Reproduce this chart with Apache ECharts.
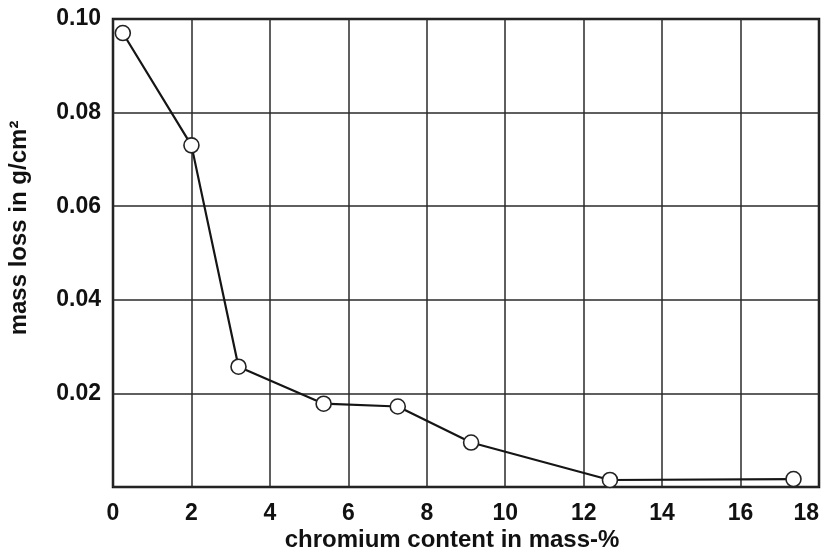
<!DOCTYPE html>
<html>
<head>
<meta charset="utf-8">
<script src="https://cdn.jsdelivr.net/npm/echarts@6/dist/echarts.min.js"></script>
<style>
html,body{margin:0;padding:0;background:#fff;}
#chart{width:822px;height:558px;}
</style>
</head>
<body>
<div id="chart"></div>
<script>
// Data
const chromiumContent = [0.25, 2.0, 3.2, 5.37, 7.26, 9.13, 12.67, 17.35];
const massLoss = [0.097, 0.073, 0.0257, 0.0178, 0.0172, 0.0095, 0.0015, 0.0017];
const xTitle = 'chromium content in mass-%';
const yTitle = 'mass loss in g/cm²';

const FONT = '"Liberation Sans", Arial, Helvetica, sans-serif';
const chart = echarts.init(document.getElementById('chart'), null, {renderer: 'canvas'});
chart.setOption({
  animation: false,
  backgroundColor: '#ffffff',
  grid: {
    left: 113, right: 2, top: 19, bottom: 71,
    show: true, borderColor: '#111', borderWidth: 2.5, backgroundColor: 'transparent'
  },
  xAxis: {
    type: 'value', min: 0, max: 18, interval: 2,
    axisLine: {show: false},
    axisTick: {show: false},
    splitLine: {show: true, lineStyle: {color: '#2a2a2a', width: 1.5}},
    axisLabel: {
      margin: 15, fontSize: 23, fontWeight: 'bold', color: '#111', fontFamily: FONT,
      alignMaxLabel: 'right'
    }
  },
  yAxis: {
    type: 'value', min: 0, max: 0.1, interval: 0.02,
    axisLine: {show: false},
    axisTick: {show: false},
    splitLine: {show: true, lineStyle: {color: '#2a2a2a', width: 1.5}},
    axisLabel: {
      margin: 12, fontSize: 23, fontWeight: 'bold', color: '#111', fontFamily: FONT,
      formatter: v => (v === 0 ? '' : v.toFixed(2))
    }
  },
  graphic: [
    {
      type: 'text', x: 452, y: 540,
      style: {text: xTitle, font: 'bold 24px ' + FONT, fill: '#111', textAlign: 'center', textVerticalAlign: 'middle'}
    },
    {
      type: 'text', x: 19, y: 228, rotation: Math.PI / 2,
      style: {text: yTitle, font: 'bold 24px ' + FONT, fill: '#111', textAlign: 'center', textVerticalAlign: 'middle'}
    }
  ],
  series: [{
    type: 'line',
    data: chromiumContent.map((c, i) => [c, massLoss[i]]),
    symbol: 'circle', symbolSize: 15,
    lineStyle: {color: '#151515', width: 2.2},
    itemStyle: {color: '#ffffff', borderColor: '#222', borderWidth: 1.6},
    z: 5
  }]
});
</script>
</body>
</html>
